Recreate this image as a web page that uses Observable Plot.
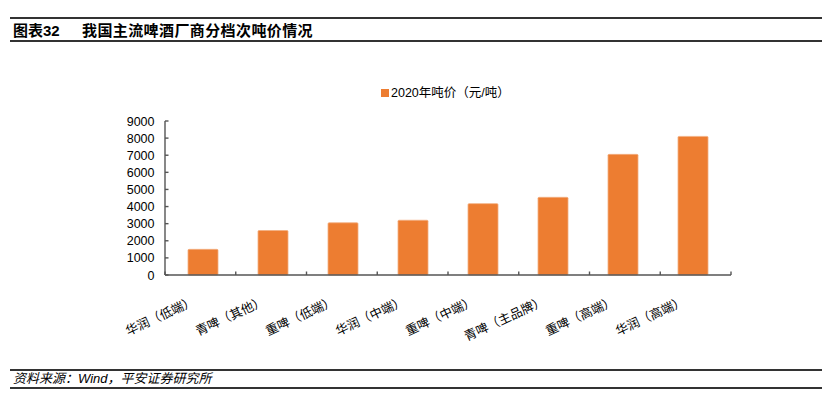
<!DOCTYPE html>
<html><head><meta charset="utf-8">
<script src="https://cdn.jsdelivr.net/npm/d3@7"></script>
<script src="https://cdn.jsdelivr.net/npm/@observablehq/plot@0.6"></script>
<style>
body{margin:0;background:#fff;}
#page{position:relative;width:832px;height:407px;overflow:hidden;font-family:"Liberation Sans","Noto Sans CJK SC",sans-serif;color:#000;}
.rule{position:absolute;left:10px;width:812px;height:1.5px;background:#333;}
#title{position:absolute;left:13px;top:21px;font-size:15px;font-weight:bold;line-height:20px;white-space:nowrap;}
#title .t2{position:absolute;left:69px;letter-spacing:0.4px;}
#legend{position:absolute;left:381px;top:86px;font-size:12.5px;line-height:14px;white-space:nowrap;font-family:"Liberation Sans","Noto Sans CJK SC",sans-serif;}
#legend i{display:inline-block;width:8px;height:8px;background:#ED7D31;margin-right:2px;vertical-align:0px;}
#chart{position:absolute;left:0;top:0;}
#caption{position:absolute;left:13px;top:371px;font-size:13px;font-style:italic;line-height:16px;white-space:nowrap;}
</style></head><body>
<div id="page">
  <div class="rule" style="top:17px;height:2px"></div>
  <div id="title"><span>图表32</span><span class="t2">我国主流啤酒厂商分档次吨价情况</span></div>
  <div class="rule" style="top:40px;"></div>
  <div id="chart"></div>
  <div id="legend"><i></i>2020年吨价（元/吨）</div>
  <div class="rule" style="top:369px;"></div>
  <div id="caption">资料来源：Wind，平安证券研究所</div>
  <div class="rule" style="top:387px;"></div>
</div>
<script>
const categories = ["华润（低端）","青啤（其他）","重啤（低端）","华润（中端）","重啤（中端）","青啤（主品牌）","重啤（高端）","华润（高端）"];
const prices = [1500, 2600, 3050, 3200, 4170, 4540, 7050, 8100];
const yTicks = [0,1000,2000,3000,4000,5000,6000,7000,8000,9000];

const data = categories.map((c,i)=>({cat:c, value:prices[i]}));

function axesFrame(index, scales, values, dims) {
  const {width, marginLeft, marginRight} = dims;
  const g = d3.create("svg:g").attr("stroke","#555").attr("stroke-width",1.4).attr("fill","none");
  const y0 = scales.y(0), yTop = scales.y(yTicks[yTicks.length-1]);
  const x0 = marginLeft, x1 = width - marginRight;
  g.append("line").attr("x1",x0).attr("x2",x0).attr("y1",yTop).attr("y2",y0);
  yTicks.forEach(t => g.append("line").attr("x1",x0).attr("x2",x0+3.5).attr("y1",scales.y(t)).attr("y2",scales.y(t)));
  g.append("line").attr("x1",x0).attr("x2",x1).attr("y1",y0).attr("y2",y0);
  const n = categories.length;
  for (let i=0;i<=n;i++){
    const x = x0 + (x1-x0)*i/n;
    g.append("line").attr("x1",x).attr("x2",x).attr("y1",y0).attr("y2",y0-3.5);
  }
  return g.node();
}

const chart = Plot.plot({
  width:832, height:360,
  marginTop:121, marginBottom:85, marginLeft:165, marginRight:101,
  style:{fontFamily:'"Liberation Sans","Noto Sans CJK SC",sans-serif', fontSize:"12.5px", color:"#000", background:"transparent"},
  x:{domain:categories, paddingInner:0.566, paddingOuter:0.283, axis:null},
  y:{domain:[0,9000]},
  marks:[
    Plot.barY(data,{x:"cat", y:"value", fill:"#ED7D31", stroke:"#F3AE80", strokeWidth:0.8, rx:1}),
    Plot.axisY({ticks:yTicks, tickSize:0, tickPadding:11, tickFormat:d=>String(d), label:null, fill:"#000", fontSize:12.5}),
    axesFrame,
    Plot.text(categories,{x:d=>d, frameAnchor:"bottom", dx:-9, dy:25, rotate:-25, textAnchor:"end", lineAnchor:"middle", fontSize:12.5, fill:"#000", fontFamily:'"Noto Sans CJK SC",sans-serif'})
  ]
});
document.getElementById("chart").appendChild(chart);
</script>
</body></html>
